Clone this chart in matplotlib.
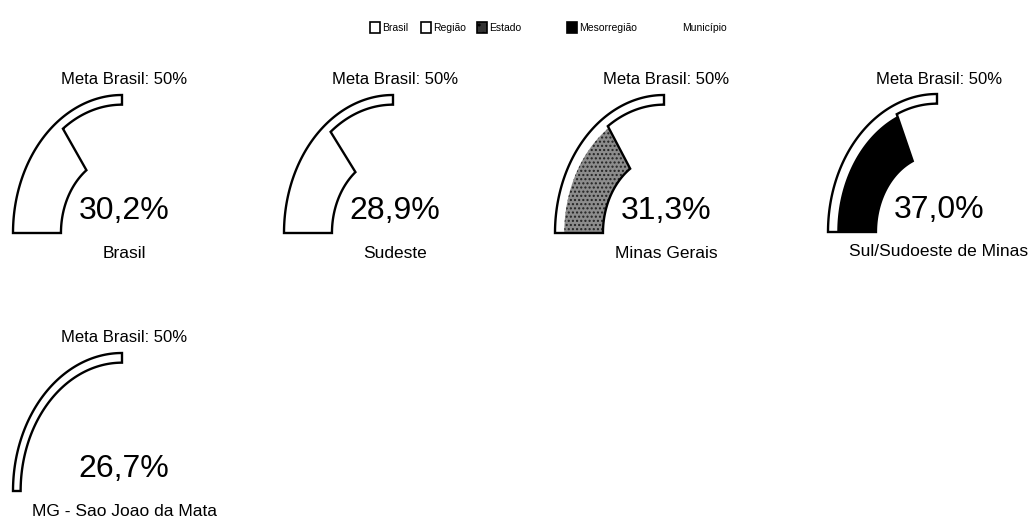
import numpy as np
import matplotlib.pyplot as plt
from matplotlib.patches import Polygon, Rectangle

plt.rcParams['font.family'] = ['Liberation Sans', 'DejaVu Sans']

# data
categories = ['Brasil', 'Sudeste', 'Minas Gerais', 'Sul/Sudoeste de Minas',
              'MG - Sao Joao da Mata']
values = [30.2, 28.9, 31.3, 37.0, 26.7]
levels = ['Brasil', 'Região', 'Estado', 'Mesorregião', 'Município']
meta = 50
meta_label = 'Meta Brasil: 50%'
gauge_max = 100

# look of each level: (facecolor, hatch)
level_style = {
    'Brasil': ('white', None),
    'Região': ('white', None),
    'Estado': ('#8c8c8c', '....'),
    'Mesorregião': ('black', None),
    'Município': (None, None),
}

# layout (pixels)
centers = [(122, 233), (393, 233), (664, 233), (937, 232), (122, 491)]
RX, RY = 109, 138
R_OUT, R_TRACK, R_FILL, R_IN = 1.0, 0.93, 0.915, 0.56


def angle(v):
    return np.pi * (1 - v / gauge_max)


def arc(cx, cy, r, t0, t1, n=80):
    t = np.linspace(t0, t1, n)
    return np.column_stack([cx + RX * r * np.cos(t), cy - RY * r * np.sin(t)])


fig = plt.figure(figsize=(10.36, 5.22), dpi=100)
ax = fig.add_axes([0, 0, 1, 1])
ax.set_xlim(0, 1036)
ax.set_ylim(522, 0)
ax.axis('off')

for (cx, cy), cat, val, lev in zip(centers, categories, values, levels):
    face, hatch = level_style[lev]
    t_meta = angle(meta)
    t_val = angle(val)
    if face is None:
        outline = np.vstack([arc(cx, cy, R_OUT, np.pi, t_meta),
                             arc(cx, cy, R_TRACK, t_meta, np.pi)])
    else:
        outline = np.vstack([arc(cx, cy, R_OUT, np.pi, t_meta),
                             arc(cx, cy, R_TRACK, t_meta, t_val),
                             arc(cx, cy, R_IN, t_val, np.pi)])
    ax.add_patch(Polygon(outline, closed=True, facecolor='white',
                         edgecolor='none', zorder=1))
    if face is not None and face != 'white':
        band = np.vstack([arc(cx, cy, R_FILL, np.pi, t_val),
                          arc(cx, cy, R_IN, t_val, np.pi)])
        ax.add_patch(Polygon(band, closed=True, facecolor=face,
                             edgecolor='#222222', linewidth=0,
                             hatch=hatch, zorder=2))
    ax.add_patch(Polygon(outline, closed=True, facecolor='none',
                         edgecolor='black', linewidth=1.7, zorder=3))

    ax.text(cx + 2, cy - 153, meta_label, ha='center', va='center',
            fontsize=12)
    ax.text(cx + 2, cy - 22, f'{val:.1f}%'.replace('.', ','), ha='center',
            va='center', fontsize=23)
    ax.text(cx + 2, cy + 20, cat, ha='center', va='center', fontsize=12.5)

# legend at the top
legend_x = [370, 421, 477, 567, 670]
for x, lev in zip(legend_x, levels):
    face, hatch = level_style[lev]
    if face is not None:
        box_face = '#333333' if lev == 'Estado' else face
        ax.add_patch(Rectangle((x, 22), 10, 11, facecolor=box_face,
                               edgecolor='black', linewidth=1.2,
                               hatch='..' if lev == 'Estado' else None))
    ax.text(x + 12, 28, lev, ha='left', va='center', fontsize=7.5)

fig.savefig('out.png', dpi=100)
